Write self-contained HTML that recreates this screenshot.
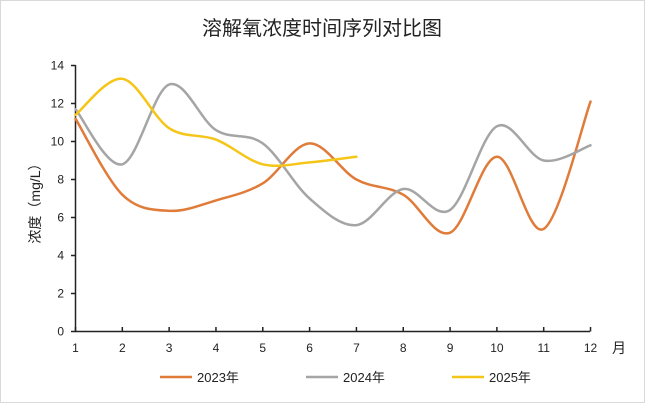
<!DOCTYPE html>
<html><head><meta charset="utf-8"><style>
html,body{margin:0;padding:0;background:#fff;}
body{width:645px;height:403px;overflow:hidden;font-family:"Liberation Sans","Noto Sans CJK SC",sans-serif;}
</style></head><body>
<svg id="s" width="645" height="403" xmlns="http://www.w3.org/2000/svg" font-family="'Liberation Sans','Noto Sans CJK SC',sans-serif">
<rect x="0.5" y="0.5" width="644" height="402" fill="#fff" stroke="#d9d9d9"/>
<text x="322" y="35" font-size="20" text-anchor="middle" fill="#222">溶解氧浓度时间序列对比图</text>
<g id="ax" stroke="#222" stroke-width="1.5" fill="none"></g>
<g id="lab" font-size="12" fill="#222"></g>
<text transform="translate(40,200) rotate(-90)" font-size="14" text-anchor="middle" fill="#222">浓度（mg/L）</text>
<text x="612" y="353" font-size="14" fill="#222">月</text>
<g id="lines" fill="none" stroke-width="2.5" stroke-linecap="round"></g>
<g font-size="13" fill="#222">
<line x1="160" y1="377" x2="192" y2="377" stroke="#E07B39" stroke-width="2.5"/><text x="197" y="382">2023年</text>
<line x1="306" y1="377" x2="338" y2="377" stroke="#A5A5A5" stroke-width="2.5"/><text x="343" y="382">2024年</text>
<line x1="452" y1="377" x2="484" y2="377" stroke="#F5C518" stroke-width="2.5"/><text x="489" y="382">2025年</text>
</g>
</svg>
<script>
var X=function(i){return 75.5+(i-1)*46.82;},Y=function(v){return 331.5-v*19.0;};
var ax=document.getElementById('ax'),lab=document.getElementById('lab'),ns='http://www.w3.org/2000/svg';
function el(p,t,a,txt){var e=document.createElementNS(ns,t);for(var k in a)e.setAttribute(k,a[k]);if(txt!=null)e.textContent=txt;p.appendChild(e);return e;}
el(ax,'path',{d:'M75.5 65 V331.5 H590'});
for(var v=0;v<=14;v+=2){var y=Y(v);el(ax,'line',{x1:71,y1:y,x2:75.5,y2:y});el(lab,'text',{x:64,y:y+4,'text-anchor':'end'},v);}
for(var i=1;i<=12;i++){var x=X(i);el(ax,'line',{x1:x,y1:331.5,x2:x,y2:327});el(lab,'text',{x:x,y:352,'text-anchor':'middle'},i);}
var data=[["#E07B39",[11.2,7.2,6.35,6.9,7.8,9.9,8.0,7.2,5.2,9.2,5.4,12.1]],
["#A5A5A5",[11.7,8.8,13.0,10.6,9.9,7.0,5.6,7.5,6.4,10.8,9.0,9.8]],
["#F5C518",[11.4,13.3,10.7,10.1,8.8,8.9,9.2]]];
var L=document.getElementById('lines');
data.forEach(function(d){var p=d[1].map(function(v,i){return[X(i+1),Y(v)];});var s='M'+p[0][0]+' '+p[0][1];
for(var i=0;i<p.length-1;i++){var a=p[i>0?i-1:i],b=p[i],c=p[i+1],e=p[i+2<p.length?i+2:i+1];
s+=' C'+(b[0]+(c[0]-a[0])/6)+' '+(b[1]+(c[1]-a[1])/6)+' '+(c[0]-(e[0]-b[0])/6)+' '+(c[1]-(e[1]-b[1])/6)+' '+c[0]+' '+c[1];}
el(L,'path',{d:s,stroke:d[0]});});
</script>
</body></html>
